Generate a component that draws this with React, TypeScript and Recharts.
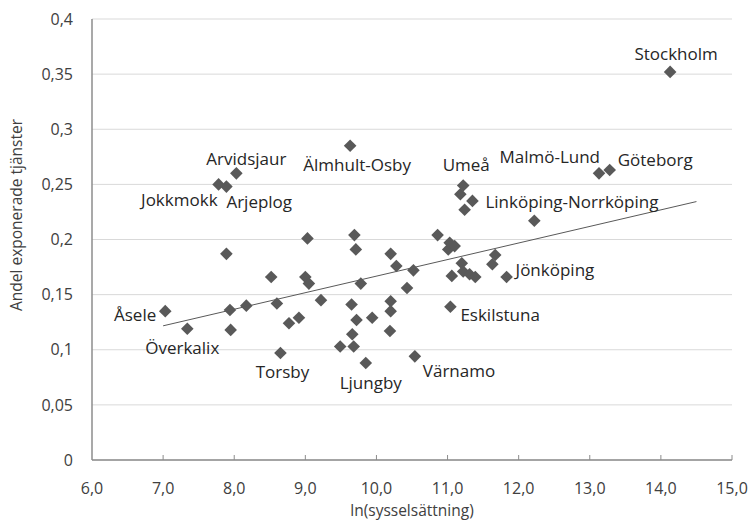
import React from 'react';
import { ScatterChart, Scatter, XAxis, YAxis, CartesianGrid } from 'recharts';

// ln(employment) per region
const lnEmployment = [
  7.03, 7.34, 7.78, 7.89, 8.03, 7.89, 7.94, 7.95, 8.17, 8.52,
  8.60, 8.65, 8.77, 8.91, 9.00, 9.03, 9.05, 9.22, 9.49, 9.63,
  9.65, 9.66, 9.68, 9.69, 9.71, 9.72, 9.78, 9.85, 9.94, 10.19,
  10.20, 10.20, 10.20, 10.28, 10.43, 10.52, 10.54, 10.86, 11.01, 11.03,
  11.04, 11.06, 11.10, 11.18, 11.20, 11.22, 11.22, 11.24, 11.31, 11.35,
  11.39, 11.63, 11.67, 11.83, 12.22, 13.13, 13.28, 14.13,
];

// share of exposed services per region
const exposedShare = [
  0.135, 0.119, 0.250, 0.248, 0.260, 0.187, 0.136, 0.118, 0.140, 0.166,
  0.142, 0.097, 0.124, 0.129, 0.166, 0.201, 0.160, 0.145, 0.103, 0.285,
  0.141, 0.114, 0.103, 0.204, 0.191, 0.127, 0.160, 0.088, 0.129, 0.117,
  0.144, 0.135, 0.187, 0.176, 0.156, 0.172, 0.094, 0.204, 0.191, 0.197,
  0.139, 0.167, 0.194, 0.241, 0.1785, 0.249, 0.171, 0.227, 0.1685, 0.235,
  0.166, 0.1776, 0.186, 0.166, 0.217, 0.260, 0.263, 0.352,
];

const regionNames = [
  'Åsele', 'Överkalix', 'Jokkmokk', 'Arjeplog', 'Arvidsjaur', '', '', '', '', '',
  '', 'Torsby', '', '', '', '', '', '', '', 'Älmhult-Osby',
  '', '', '', '', '', '', '', 'Ljungby', '', '',
  '', '', '', '', '', '', 'Värnamo', '', '', '',
  'Eskilstuna', '', '', '', '', 'Umeå', '', '', '', 'Linköping-Norrköping',
  '', '', '', 'Jönköping', '', 'Malmö-Lund', 'Göteborg', 'Stockholm',
];

// trend line end points
const trendX = [7.0, 14.5];
const trendY = [0.1217, 0.2344];

const xTicks = [6, 7, 8, 9, 10, 11, 12, 13, 14, 15];
const yTicks = [0, 0.05, 0.1, 0.15, 0.2, 0.25, 0.3, 0.35, 0.4];

const points = lnEmployment.map((x, i) => ({ x, y: exposedShare[i], name: regionNames[i] }));
const trend = trendX.map((x, i) => ({ x, y: trendY[i] }));

// label placement style (relative to marker centre)
const labelStyle: Record<string, { dx: number; dy: number; anchor: 'start' | 'middle' | 'end' }> = {
  Stockholm: { dx: 6, dy: -18, anchor: 'middle' },
  'Göteborg': { dx: 8, dy: -10, anchor: 'start' },
  'Malmö-Lund': { dx: 1, dy: -16, anchor: 'end' },
  'Umeå': { dx: 3, dy: -20, anchor: 'middle' },
  'Linköping-Norrköping': { dx: 13, dy: 1, anchor: 'start' },
  'Jönköping': { dx: 9, dy: -7, anchor: 'start' },
  Eskilstuna: { dx: 10, dy: 8, anchor: 'start' },
  'Värnamo': { dx: 8, dy: 15, anchor: 'start' },
  Ljungby: { dx: 5, dy: 20, anchor: 'middle' },
  Torsby: { dx: 2, dy: 19, anchor: 'middle' },
  'Överkalix': { dx: -5, dy: 19, anchor: 'middle' },
  'Åsele': { dx: -9, dy: 4, anchor: 'end' },
  Jokkmokk: { dx: -1, dy: 16, anchor: 'end' },
  Arjeplog: { dx: 0, dy: 15, anchor: 'start' },
  Arvidsjaur: { dx: 10, dy: -14, anchor: 'middle' },
  'Älmhult-Osby': { dx: 7, dy: 19, anchor: 'middle' },
};

const FONT = '"Open Sans", "Noto Sans", sans-serif';
const MARKER = '#595959';
const TEXT = '#404040';
const LABEL_TEXT = '#262626';
const X_TICK_MARGIN = 28;
const LABEL_SIZE = 17;
const TICK_SIZE = 16;
const TITLE_SIZE = 15.5;

const fmt = (v: number) => String(Number(v.toFixed(2))).replace('.', ',');

const Diamond = (props: any) => {
  const { cx, cy } = props;
  if (cx == null || cy == null) return <g />;
  const r = 6.3;
  return <path d={`M${cx},${cy - r}L${cx + r},${cy}L${cx},${cy + r}L${cx - r},${cy}Z`} fill={MARKER} />;
};

const LabelOnly = (props: any) => {
  const { cx, cy, payload } = props;
  const name = payload?.name;
  if (!name || cx == null) return <g />;
  const s = labelStyle[name] || { dx: 8, dy: 0, anchor: 'start' };
  return (
    <text x={cx + s.dx} y={cy + s.dy} dy="0.35em" textAnchor={s.anchor} fontFamily={FONT} fontSize={LABEL_SIZE} fill={LABEL_TEXT}>
      {name}
    </text>
  );
};

const Nothing = () => <g />;

const XTick = (props: any) => {
  const { x, y, payload } = props;
  const axisY = y - X_TICK_MARGIN;
  return (
    <g>
      {payload.value !== 6 && (
        <line x1={x} x2={x} y1={axisY} y2={axisY - 5} stroke="#8c8c8c" strokeWidth={1} />
      )}
      <text x={x} y={y} dy="0.35em" textAnchor="middle" fontFamily={FONT} fontSize={TICK_SIZE} fill={TEXT}>
        {payload.value.toFixed(1).replace('.', ',')}
      </text>
    </g>
  );
};

export default function App() {
  return (
    <div style={{ width: 751, height: 529, background: '#fff' }}>
      <style>{`body{margin:0;}`}</style>
      <ScatterChart width={751} height={529} margin={{ top: 19, right: 19, bottom: 0, left: 0 }}>
        <CartesianGrid vertical={false} stroke="#d9d9d9" strokeWidth={1} />
        <XAxis
          type="number"
          dataKey="x"
          domain={[6, 15]}
          ticks={xTicks}
          interval={0}
          height={69}
          tickSize={0}
          tickMargin={X_TICK_MARGIN}
          tickLine={false}
          axisLine={{ stroke: '#8c8c8c', strokeWidth: 1.5 }}
          tick={<XTick />}
          allowDataOverflow
          label={{
            content: () => (
              <text x={412} y={511} dy="0.35em" textAnchor="middle" fontFamily={FONT} fontSize={TITLE_SIZE} fill={TEXT}>
                ln(sysselsättning)
              </text>
            ),
          }}
        />
        <YAxis
          type="number"
          dataKey="y"
          domain={[0, 0.4]}
          ticks={yTicks}
          interval={0}
          width={92}
          tickSize={0}
          tickMargin={19}
          tickLine={false}
          axisLine={{ stroke: '#8c8c8c', strokeWidth: 1.5 }}
          tick={{ fontFamily: FONT, fontSize: TICK_SIZE, fill: TEXT }}
          tickFormatter={fmt}
          allowDataOverflow
          label={{
            content: () => (
              <text
                x={17}
                y={215}
                dy="0.35em"
                textAnchor="middle"
                transform="rotate(-90 17 215)"
                fontFamily={FONT}
                fontSize={TITLE_SIZE}
                fill={TEXT}
              >
                Andel exponerade tjänster
              </text>
            ),
          }}
        />
        <Scatter data={trend} line={{ stroke: MARKER, strokeWidth: 1 }} shape={<Nothing />} isAnimationActive={false} />
        <Scatter data={points} shape={<Diamond />} isAnimationActive={false} />
        <Scatter data={points} shape={<LabelOnly />} isAnimationActive={false} />
      </ScatterChart>
    </div>
  );
}
